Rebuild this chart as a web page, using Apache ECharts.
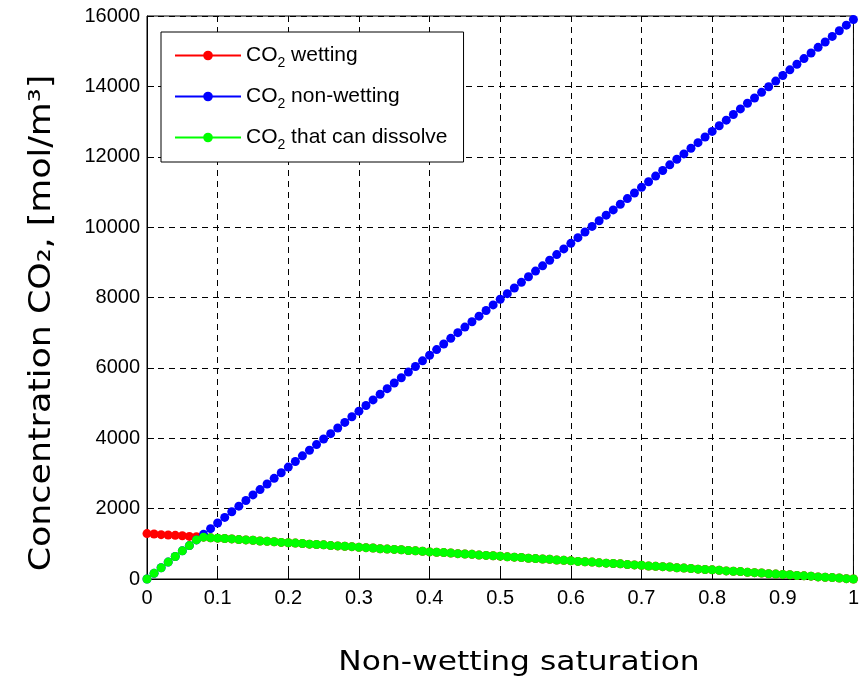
<!DOCTYPE html>
<html>
<head>
<meta charset="utf-8">
<script src="https://cdn.jsdelivr.net/npm/echarts@6/dist/echarts.min.js"></script>
<style>
  html, body { margin: 0; padding: 0; background: #fff; }
  #chart { width: 862px; height: 680px; }
</style>
</head>
<body>
<div id="chart"></div>
<script>
// Non-wetting saturation (x axis)
const saturation = [
  0, 0.01, 0.02, 0.03, 0.04, 0.05, 0.06, 0.07, 0.08, 0.09,
  0.10, 0.11, 0.12, 0.13, 0.14, 0.15, 0.16, 0.17, 0.18, 0.19,
  0.20, 0.21, 0.22, 0.23, 0.24, 0.25, 0.26, 0.27, 0.28, 0.29,
  0.30, 0.31, 0.32, 0.33, 0.34, 0.35, 0.36, 0.37, 0.38, 0.39,
  0.40, 0.41, 0.42, 0.43, 0.44, 0.45, 0.46, 0.47, 0.48, 0.49,
  0.50, 0.51, 0.52, 0.53, 0.54, 0.55, 0.56, 0.57, 0.58, 0.59,
  0.60, 0.61, 0.62, 0.63, 0.64, 0.65, 0.66, 0.67, 0.68, 0.69,
  0.70, 0.71, 0.72, 0.73, 0.74, 0.75, 0.76, 0.77, 0.78, 0.79,
  0.80, 0.81, 0.82, 0.83, 0.84, 0.85, 0.86, 0.87, 0.88, 0.89,
  0.90, 0.91, 0.92, 0.93, 0.94, 0.95, 0.96, 0.97, 0.98, 0.99,
  1.00
];

// CO2 in the wetting phase [mol/m3]
const co2Wetting = [
  1290, 1280, 1260, 1250, 1240, 1230, 1210, 1200, 1190, 1170,
  1160, 1150, 1140, 1120, 1110, 1100, 1080, 1070, 1060, 1040,
  1030, 1020, 1010, 990, 980, 970, 950, 940, 930, 920,
  900, 890, 880, 860, 850, 840, 830, 810, 800, 790,
  770, 760, 750, 740, 720, 710, 700, 680, 670, 660,
  650, 630, 620, 610, 590, 580, 570, 560, 540, 530,
  520, 500, 490, 480, 460, 450, 440, 430, 410, 400,
  390, 370, 360, 350, 340, 320, 310, 300, 280, 270,
  260, 250, 230, 220, 210, 190, 180, 170, 150, 140,
  130, 120, 100, 90, 80, 60, 50, 40, 30, 10,
  0
];

// CO2 in the non-wetting phase [mol/m3]
const co2NonWetting = [
  0, 160, 320, 480, 640, 800, 950, 1110, 1270, 1430,
  1590, 1750, 1910, 2070, 2230, 2390, 2540, 2700, 2860, 3020,
  3180, 3340, 3500, 3660, 3820, 3980, 4130, 4290, 4450, 4610,
  4770, 4930, 5090, 5250, 5410, 5570, 5720, 5880, 6040, 6200,
  6360, 6520, 6680, 6840, 7000, 7160, 7310, 7470, 7630, 7790,
  7950, 8110, 8270, 8430, 8590, 8750, 8900, 9060, 9220, 9380,
  9540, 9700, 9860, 10020, 10180, 10340, 10490, 10650, 10810, 10970,
  11130, 11290, 11450, 11610, 11770, 11930, 12080, 12240, 12400, 12560,
  12720, 12880, 13040, 13200, 13360, 13520, 13670, 13830, 13990, 14150,
  14310, 14470, 14630, 14790, 14950, 15110, 15260, 15420, 15580, 15740,
  15900
];

// CO2 that can dissolve [mol/m3]
const co2Dissolvable = [
  0, 160, 320, 480, 640, 800, 950, 1110, 1190, 1170,
  1160, 1150, 1140, 1120, 1110, 1100, 1080, 1070, 1060, 1040,
  1030, 1020, 1010, 990, 980, 970, 950, 940, 930, 920,
  900, 890, 880, 860, 850, 840, 830, 810, 800, 790,
  770, 760, 750, 740, 720, 710, 700, 680, 670, 660,
  650, 630, 620, 610, 590, 580, 570, 560, 540, 530,
  520, 500, 490, 480, 460, 450, 440, 430, 410, 400,
  390, 370, 360, 350, 340, 320, 310, 300, 280, 270,
  260, 250, 230, 220, 210, 190, 180, 170, 150, 140,
  130, 120, 100, 90, 80, 60, 50, 40, 30, 10,
  0
];

const seriesNames = ['CO2 wetting', 'CO2 non-wetting', 'CO2 that can dissolve'];
const legendLabels = {
  'CO2 wetting': '{n|CO}{s|2}{n| wetting}',
  'CO2 non-wetting': '{n|CO}{s|2}{n| non-wetting}',
  'CO2 that can dissolve': '{n|CO}{s|2}{n| that can dissolve}'
};
const seriesColors = ['#ff0000', '#0000ff', '#00ff00'];

const xTitle = 'Non-wetting saturation';
const yTitle = 'Concentration CO\u2082, [mol/m\u00b3]';

function pairs(ys) {
  return saturation.map((s, i) => [s, ys[i]]);
}

const chart = echarts.init(document.getElementById('chart'), null, { renderer: 'canvas' });

const tickFont = 'Liberation Sans';
const lines = [co2Wetting, co2NonWetting, co2Dissolvable].map((ys, i) => ({
  name: seriesNames[i],
  type: 'line',
  data: pairs(ys),
  symbol: 'circle',
  symbolSize: 9,
  showSymbol: true,
  color: seriesColors[i],
  lineStyle: { width: 1, color: seriesColors[i] },
  itemStyle: { color: seriesColors[i] },
  z: 2 + i,
  emphasis: { disabled: true }
}));

chart.setOption({
  animation: false,
  backgroundColor: '#ffffff',
  grid: {
    left: 147, top: 16, width: 714, height: 563,
    show: true, borderColor: '#000', borderWidth: 1, backgroundColor: 'transparent'
  },
  xAxis: {
    type: 'value',
    min: 0, max: 1, interval: 0.1,
    axisLine: { show: true, onZero: false, lineStyle: { color: '#000', width: 1 } },
    axisTick: { show: true, inside: true, length: 7, lineStyle: { color: '#000' } },
    axisLabel: {
      color: '#000', fontFamily: tickFont, fontSize: 20, margin: 9,
      formatter: v => String(Math.round(v * 10) / 10)
    },
    splitLine: { show: true, lineStyle: { color: '#000', type: [6, 5], width: 1 } }
  },
  yAxis: {
    type: 'value',
    min: 0, max: 16000, interval: 2000,
    axisLine: { show: true, lineStyle: { color: '#000', width: 1 } },
    axisTick: { show: true, inside: true, length: 7, lineStyle: { color: '#000' } },
    axisLabel: {
      color: '#000', fontFamily: tickFont, fontSize: 20, margin: 7,
      formatter: v => String(v)
    },
    splitLine: { show: true, lineStyle: { color: '#000', type: [6, 5], width: 1 } }
  },
  legend: {
    data: seriesNames,
    orient: 'vertical',
    left: 161, top: 32,
    padding: [9, 16, 10, 13],
    itemWidth: 66, itemHeight: 12, itemGap: 12,
    backgroundColor: '#fff',
    borderColor: '#000', borderWidth: 1, borderRadius: 0,
    selectedMode: false,
    formatter: name => legendLabels[name],
    textStyle: {
      color: '#000', fontFamily: tickFont, fontSize: 21,
      rich: {
        n: { fontFamily: tickFont, fontSize: 21, lineHeight: 22, verticalAlign: 'top', color: '#000' },
        s: { fontFamily: tickFont, fontSize: 14, lineHeight: 14, padding: [15, 0, 0, 0], color: '#000' }
      }
    }
  },
  graphic: [
    {
      type: 'text',
      x: 519, y: 663,
      scaleX: 1.16,
      style: {
        text: xTitle,
        font: '27px "DejaVu Sans"',
        fill: '#000',
        align: 'center',
        verticalAlign: 'middle'
      }
    },
    {
      type: 'text',
      x: 42, y: 323,
      rotation: Math.PI / 2,
      scaleX: 1.16,
      style: {
        text: yTitle,
        font: '30px "DejaVu Sans"',
        fill: '#000',
        align: 'center',
        verticalAlign: 'middle'
      }
    }
  ],
  series: lines
});
</script>
</body>
</html>
